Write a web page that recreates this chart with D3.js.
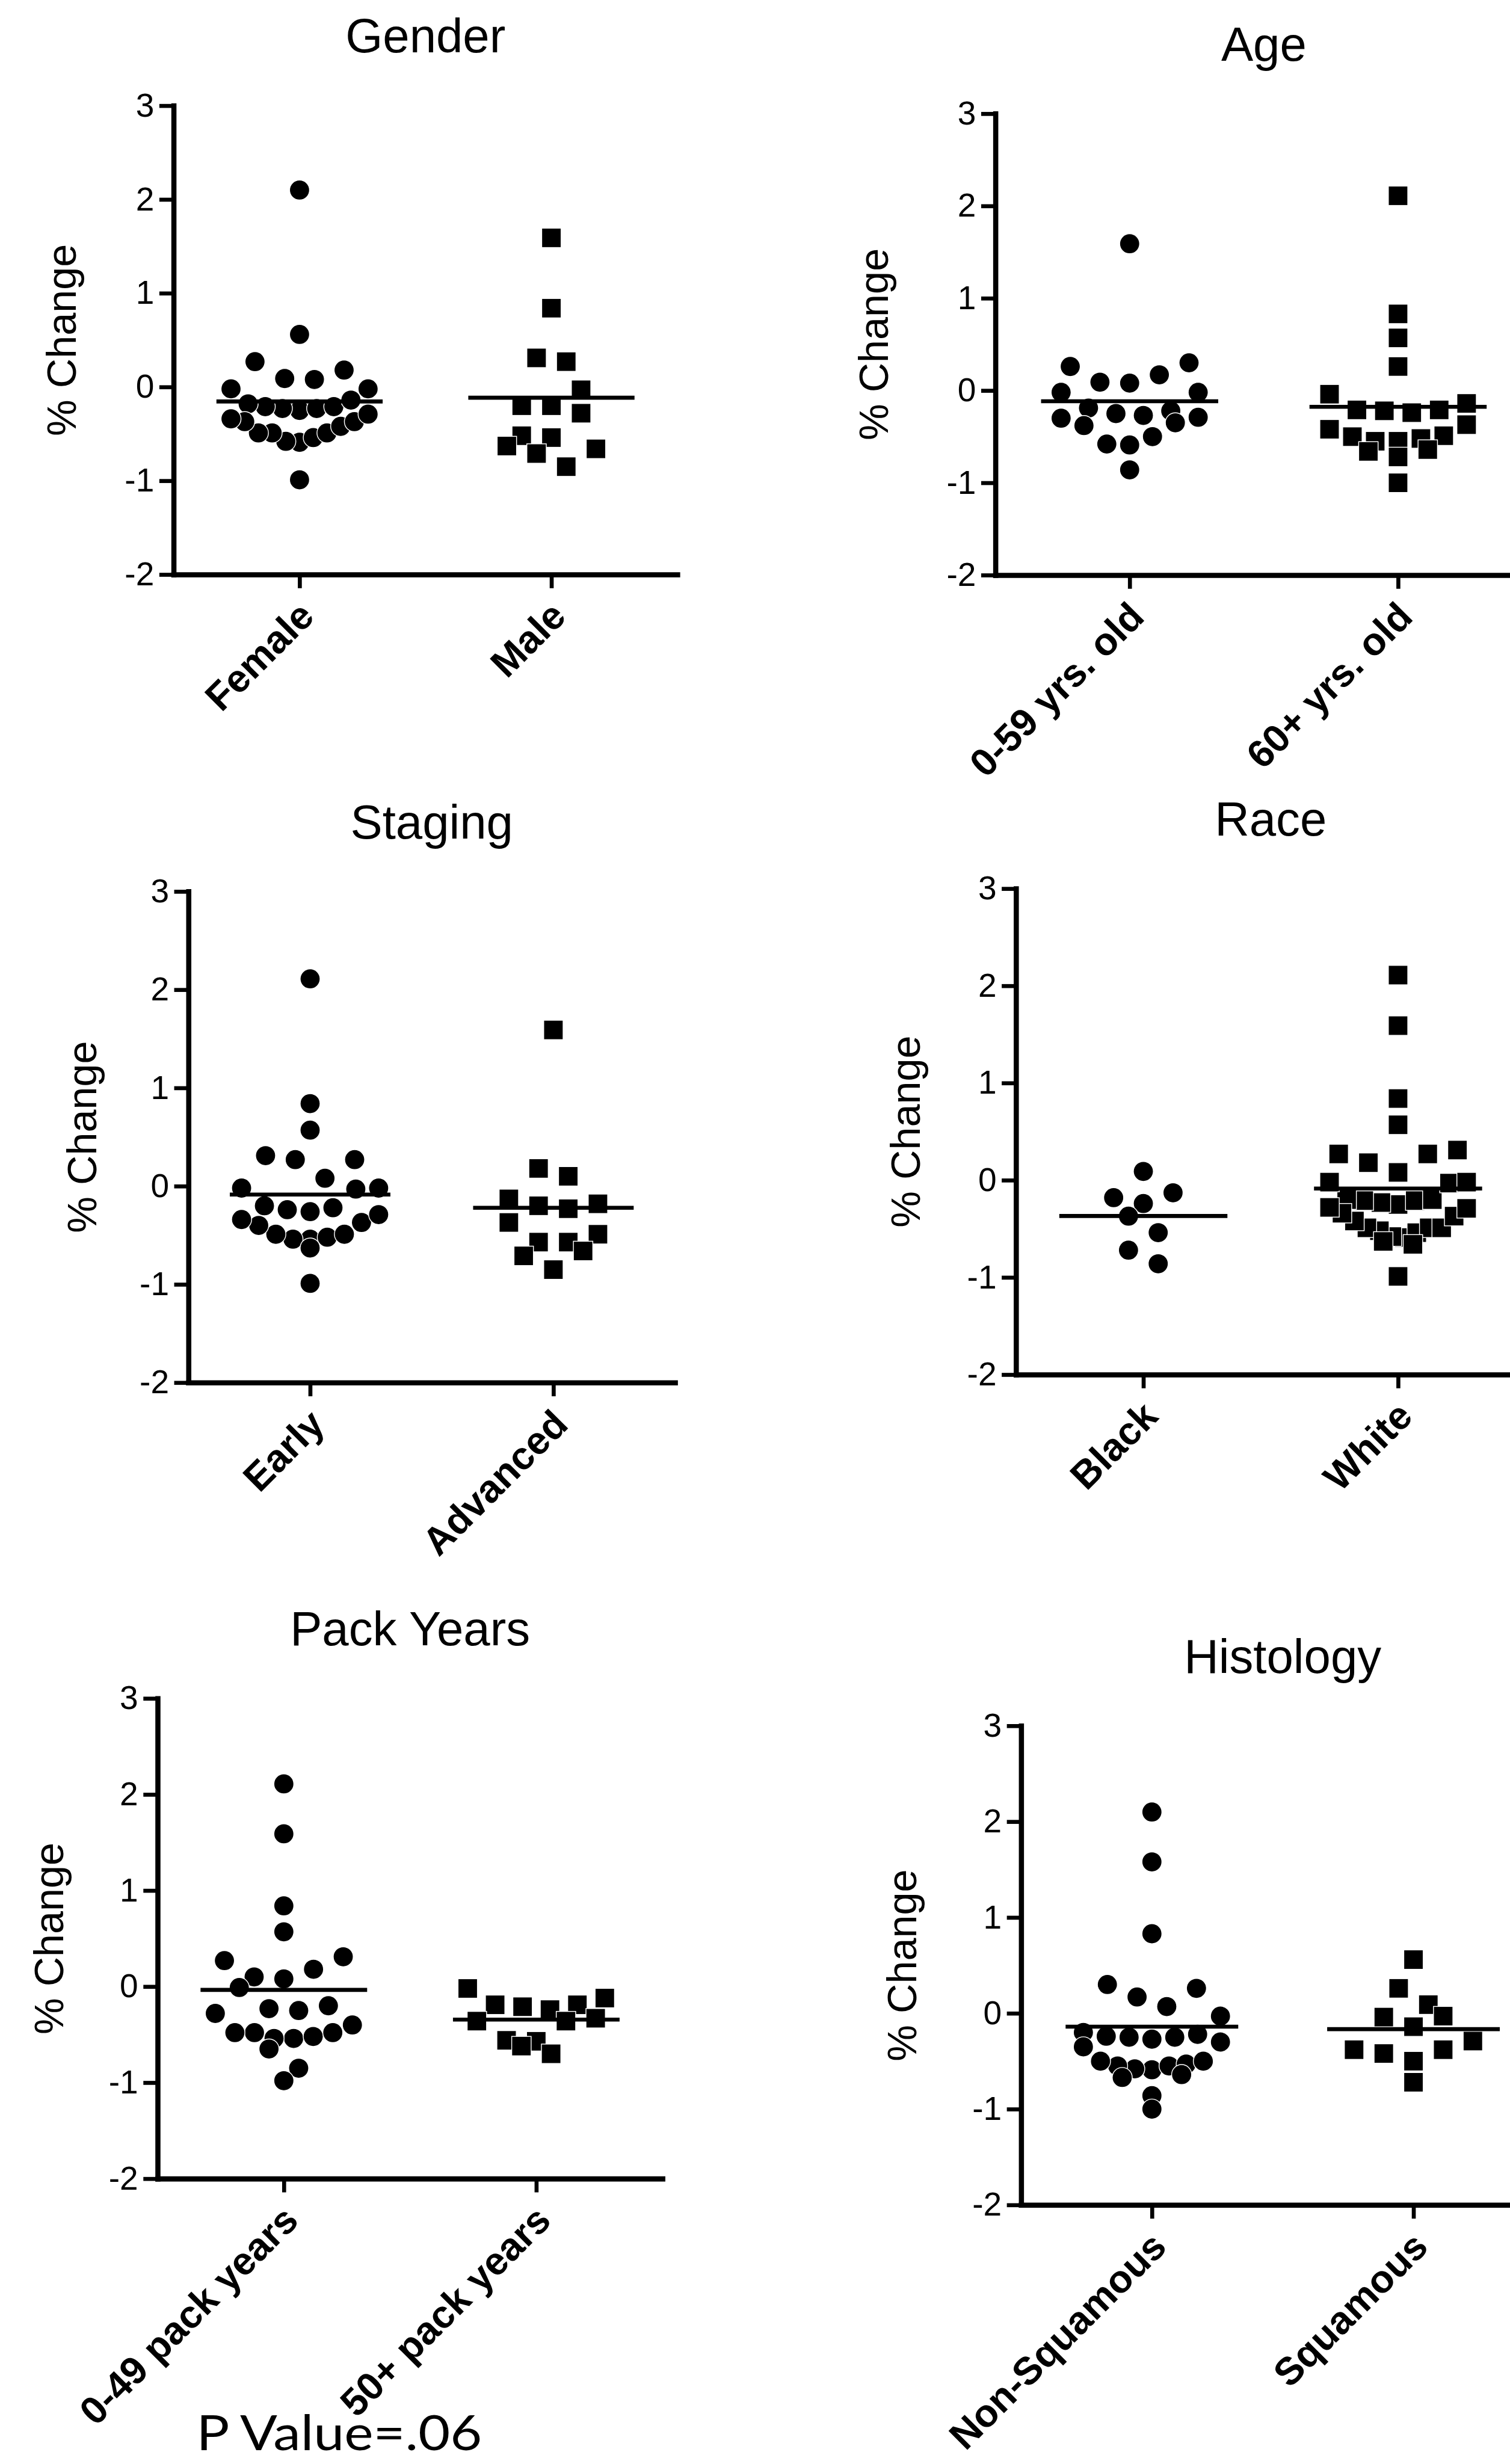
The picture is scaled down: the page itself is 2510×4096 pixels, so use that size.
<!DOCTYPE html>
<meta charset="utf-8">
<style>
body { margin: 0; background: #fff; }
text { font-family: Arial, "Liberation Sans", Helvetica, sans-serif; fill: #000; }
</style>
<body>
<script src="https://cdn.jsdelivr.net/npm/d3@7"></script>
<script>

var W = 2510, H = 4096,
    k = W / 2644;   // reference pixels -> window pixels

// chart data
var titles = ["Gender", "Age", "Staging", "Race", "Pack Years", "Histology"];

var categories = [
  ["Female", "Male"],
  ["0-59 yrs. old", "60+ yrs. old"],
  ["Early", "Advanced"],
  ["Black", "White"],
  ["0-49 pack years", "50+ pack years"],
  ["Non-Squamous", "Squamous"]
];

var yTicks = [-2, -1, 0, 1, 2, 3];

var genderFemale = [2.10, 0.56, 0.27, 0.09, 0.08, 0.18, -0.02, -0.02, -0.14, -0.21, -0.23, -0.25, -0.23, -0.21,
                    -0.18, -0.29, -0.34, -0.37, -0.49, -0.49, -0.58, -0.59, -0.54, -0.49, -0.42, -0.37, -0.99];
var genderMale = [1.59, 0.84, 0.31, 0.27, -0.03, -0.20, -0.20, -0.28, -0.52, -0.66, -0.54, -0.71, -0.63, -0.85];

var ageYoung = [1.59, 0.26, 0.30, 0.09, 0.17, 0.08, -0.02, -0.02, -0.22, -0.27, -0.30, -0.19, -0.38, -0.35,
                -0.29, -0.25, -0.58, -0.50, -0.59, -0.86];
var ageOld = [2.11, 0.83, 0.57, 0.26, -0.04, -0.14, -0.21, -0.24, -0.22, -0.21, -0.37, -0.42, -0.50, -0.55,
              -0.64, -0.66, -0.72, -0.55, -0.52, -0.49, -1.00];

var stagingEarly = [2.11, 0.84, 0.57, 0.31, 0.27, 0.27, 0.08, -0.02, -0.03, -0.02, -0.20, -0.24, -0.29, -0.26,
                    -0.22, -0.37, -0.49, -0.52, -0.54, -0.63, -0.54, -0.49, -0.40, -0.34, -0.99];
var stagingAdvanced = [1.59, 0.10, 0.18, -0.20, -0.18, -0.13, -0.23, -0.37, -0.49, -0.57, -0.66, -0.57, -0.71, -0.85];

var raceBlack = [0.09, -0.18, -0.13, -0.24, -0.37, -0.54, -0.72, -0.86];
var raceWhite = [2.11, 1.59, 0.84, 0.57, 0.27, 0.31, 0.27, 0.18, 0.08, -0.02, -0.03, -0.02, -0.20, -0.20,
                 -0.21, -0.21, -0.23, -0.25, -0.28, -0.29, -0.34, -0.37, -0.42, -0.49, -0.49, -0.49, -0.52,
                 -0.54, -0.58, -0.59, -0.63, -0.66, -0.99];

var packLow = [2.11, 1.59, 0.84, 0.57, 0.27, 0.31, 0.18, 0.10, 0.08, -0.01, -0.23, -0.28, -0.25, -0.20,
               -0.40, -0.48, -0.52, -0.54, -0.65, -0.54, -0.48, -0.48, -0.85, -0.98];
var packHigh = [-0.02, -0.12, -0.19, -0.24, -0.36, -0.36, -0.33, -0.21, -0.19, -0.57, -0.70, -0.62, -0.56];

var histNonSquamous = [2.10, 1.58, 0.83, 0.30, 0.26, 0.17, 0.07, -0.03, -0.22, -0.25, -0.27, -0.35, -0.30, -0.25,
                       -0.24, -0.20, -0.50, -0.55, -0.58, -0.64, -0.67, -0.59, -0.55, -0.53, -0.50, -0.86, -1.00];
var histSquamous = [0.56, 0.26, 0.09, -0.04, -0.03, -0.14, -0.29, -0.42, -0.38, -0.38, -0.50, -0.72];

var groups = [
  [genderFemale, genderMale],
  [ageYoung, ageOld],
  [stagingEarly, stagingAdvanced],
  [raceBlack, raceWhite],
  [packLow, packHigh],
  [histNonSquamous, histSquamous]
];

var pValueNote = "P Value=.06";

// panel frames, in reference pixels
var frames = [
  {x0: 304,  x1: 1186, y0: 185,  y1: 1006, lab: 197},
  {x0: 1743, x1: 2683, y0: 199,  y1: 1007, lab: 213},
  {x0: 330,  x1: 1182, y0: 1561, y1: 2421, lab: 187},
  {x0: 1779, x1: 2671, y0: 1556, y1: 2407, lab: 194},
  {x0: 276,  x1: 1160, y0: 2974, y1: 3815, lab: 191},
  {x0: 1788, x1: 2704, y0: 3022, y1: 3861, lab: 209}
];

var r = 17.5, side = 34;

// Prism-like scatter: bin by value, lowest in the middle, spread out alternately
function swarm(values) {
  var bins = d3.group(values, function(v) { return Math.floor((v - 0.06) / 0.33); });
  var pts = [];
  bins.forEach(function(vals) {
    vals = vals.slice().sort(d3.ascending);
    var n = vals.length,
        step = n > 1 ? Math.min(52, 240 / (n - 1)) : 0,
        shift = n % 2 ? 0 : 0.5;
    vals.forEach(function(v, j) {
      var slot = j === 0 ? 0 : (j % 2 ? -Math.ceil(j / 2) : j / 2);
      pts.push({v: v, dx: (slot + shift) * step});
    });
  });
  return pts;
}

var svg = d3.select("body").append("svg")
    .attr("width", W)
    .attr("height", H);

var root = svg.append("g").attr("transform", "scale(" + k + ")");

frames.forEach(function(f, i) {
  var g = root.append("g");

  var x = d3.scalePoint().domain(categories[i]).range([f.x0, f.x1]).padding(0.5),
      y = d3.scaleLinear().domain([-2, 3]).range([f.y1, f.y0]);

  // title
  g.append("text")
      .attr("x", (f.x0 + f.x1) / 2)
      .attr("y", f.y0 - 93)
      .attr("text-anchor", "middle")
      .attr("font-size", 84)
      .text(titles[i]);

  // y axis title
  g.append("text")
      .attr("transform", "translate(" + (f.x0 - f.lab) + "," + (f.y0 + f.y1) / 2 + ") rotate(-90)")
      .attr("text-anchor", "middle")
      .attr("dy", "0.35em")
      .attr("font-size", 72)
      .text("% Change");

  // points
  groups[i].forEach(function(vals, j) {
    var cx = x(categories[i][j]),
        pts = swarm(vals);
    if (j === 0) {
      g.selectAll(null).data(pts).enter().append("circle")
          .attr("cx", function(d) { return cx + d.dx; })
          .attr("cy", function(d) { return y(d.v); })
          .attr("r", r)
          .attr("fill", "#000")
          .attr("stroke", "#fff")
          .attr("stroke-width", 1.5);
    } else {
      g.selectAll(null).data(pts).enter().append("rect")
          .attr("x", function(d) { return cx + d.dx - side / 2; })
          .attr("y", function(d) { return y(d.v) - side / 2; })
          .attr("width", side)
          .attr("height", side)
          .attr("fill", "#000")
          .attr("stroke", "#fff")
          .attr("stroke-width", 1.5);
    }

    // mean line
    var m = d3.mean(vals), hw = 0.33 * x.step();
    g.append("line")
        .attr("x1", cx - hw)
        .attr("x2", cx + hw)
        .attr("y1", y(m))
        .attr("y2", y(m))
        .attr("stroke", "#000")
        .attr("stroke-width", 7);
  });

  // axes
  var ya = g.append("g")
      .attr("transform", "translate(" + f.x0 + ",0)")
      .call(d3.axisLeft(y).tickValues(yTicks).tickSize(25).tickSizeOuter(0).tickPadding(9)
          .tickFormat(function(d) { return String(d); }));

  var xa = g.append("g")
      .attr("transform", "translate(0," + f.y1 + ")")
      .call(d3.axisBottom(x).tickSize(24).tickSizeOuter(0).tickFormat(""));

  [ya, xa].forEach(function(a) {
    a.attr("font-family", null).attr("font-size", 58);
    a.select(".domain").attr("stroke-width", 9).attr("stroke-linecap", "square");
    a.selectAll(".tick line").attr("stroke-width", 7);
  });
  ya.selectAll(".tick text").attr("fill", "#000");

  // category labels
  g.selectAll(null).data(categories[i]).enter().append("text")
      .attr("transform", function(d) { return "translate(" + (x(d) + 12) + "," + (f.y1 + 60) + ") rotate(-45)"; })
      .attr("text-anchor", "end")
      .attr("dy", "0.35em")
      .attr("font-weight", "bold")
      .attr("font-size", 68)
      .text(function(d) { return d; });
});

root.append("text")
    .attr("x", 344)
    .attr("y", 4290)
    .attr("font-size", 86)
    .attr("textLength", 500)
    .attr("lengthAdjust", "spacingAndGlyphs")
    .style("font-family", "Lato, 'Open Sans', sans-serif")
    .text(pValueNote);

</script>
